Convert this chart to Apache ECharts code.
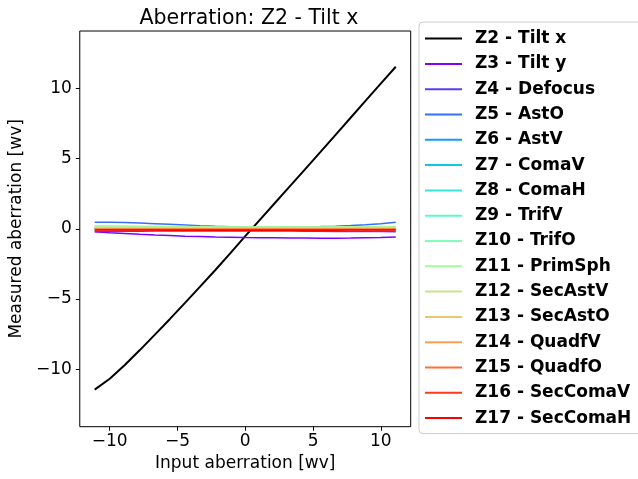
<!DOCTYPE html>
<html>
<head>
<meta charset="utf-8">
<script src="https://cdn.jsdelivr.net/npm/echarts@6/dist/echarts.min.js"></script>
<style>
  html, body { margin: 0; padding: 0; background: #fff; }
  #chart { width: 638px; height: 479px; }
</style>
</head>
<body>
<div id="chart"></div>
<script>
// Input aberration sweep (wv)
const inputValues = [-11.1, -9.99, -8.88, -7.77, -6.66, -5.55, -4.44, -3.33, -2.22, -1.11, 0,
                     1.11, 2.22, 3.33, 4.44, 5.55, 6.66, 7.77, 8.88, 9.99, 11.1];

const xTicks = [-10, -5, 0, 5, 10];
const yTicks = [-10, -5, 0, 5, 10];

const seriesNames = [
  'Z2 - Tilt x', 'Z3 - Tilt y', 'Z4 - Defocus', 'Z5 - AstO', 'Z6 - AstV',
  'Z7 - ComaV', 'Z8 - ComaH', 'Z9 - TrifV', 'Z10 - TrifO', 'Z11 - PrimSph',
  'Z12 - SecAstV', 'Z13 - SecAstO', 'Z14 - QuadfV', 'Z15 - QuadfO',
  'Z16 - SecComaV', 'Z17 - SecComaH'
];

// Measured response of each Zernike term (wv)
const z2 = [-11.46, -10.68, -9.70, -8.64, -7.54, -6.42, -5.28, -4.12, -2.95, -1.75, -0.52,
            0.68, 1.88, 3.08, 4.28, 5.48, 6.70, 7.92, 9.14, 10.35, 11.55];
const z3 = [-0.20, -0.27, -0.33, -0.39, -0.44, -0.48, -0.52, -0.55, -0.58, -0.60, -0.62,
            -0.63, -0.64, -0.65, -0.66, -0.67, -0.67, -0.66, -0.64, -0.62, -0.58];
const z4 = [-0.18, -0.18, -0.17, -0.17, -0.16, -0.16, -0.15, -0.15, -0.15, -0.15, -0.15,
            -0.15, -0.16, -0.16, -0.17, -0.17, -0.18, -0.18, -0.19, -0.19, -0.20];
const z5 = [0.47, 0.47, 0.45, 0.42, 0.37, 0.32, 0.27, 0.22, 0.18, 0.15, 0.13,
            0.12, 0.12, 0.13, 0.14, 0.16, 0.19, 0.23, 0.29, 0.37, 0.47];
const z6 = [0.05, 0.05, 0.05, 0.04, 0.04, 0.04, 0.04, 0.03, 0.03, 0.03, 0.03,
            0.03, 0.03, 0.03, 0.04, 0.04, 0.04, 0.04, 0.05, 0.05, 0.05];
const z7 = [0.02, 0.02, 0.02, 0.02, 0.02, 0.02, 0.02, 0.02, 0.02, 0.02, 0.02,
            0.02, 0.02, 0.02, 0.02, 0.02, 0.02, 0.02, 0.02, 0.02, 0.02];
const z8 = [0.06, 0.06, 0.06, 0.05, 0.05, 0.05, 0.05, 0.05, 0.05, 0.05, 0.05,
            0.05, 0.05, 0.05, 0.05, 0.05, 0.05, 0.05, 0.06, 0.06, 0.06];
const z9 = [0.10, 0.10, 0.10, 0.10, 0.09, 0.09, 0.09, 0.09, 0.09, 0.09, 0.09,
            0.09, 0.09, 0.09, 0.09, 0.09, 0.09, 0.10, 0.10, 0.10, 0.10];
const z10 = [0.14, 0.14, 0.13, 0.13, 0.12, 0.12, 0.12, 0.11, 0.11, 0.11, 0.11,
             0.11, 0.11, 0.11, 0.11, 0.12, 0.12, 0.12, 0.13, 0.13, 0.14];
const z11 = [0.22, 0.21, 0.20, 0.19, 0.18, 0.17, 0.16, 0.15, 0.14, 0.13, 0.13,
             0.13, 0.13, 0.13, 0.13, 0.14, 0.14, 0.15, 0.15, 0.16, 0.17];
const z12 = [0.10, 0.10, 0.10, 0.10, 0.10, 0.10, 0.10, 0.10, 0.10, 0.10, 0.10,
             0.10, 0.10, 0.10, 0.10, 0.10, 0.10, 0.10, 0.10, 0.10, 0.10];
const z13 = [0.05, 0.05, 0.05, 0.05, 0.05, 0.05, 0.05, 0.05, 0.05, 0.05, 0.05,
             0.05, 0.05, 0.05, 0.05, 0.05, 0.05, 0.05, 0.05, 0.05, 0.05];
const z14 = [0.01, 0.01, 0.01, 0.00, 0.00, 0.00, 0.00, 0.00, 0.00, 0.00, 0.00,
             0.00, 0.00, 0.00, 0.00, 0.00, 0.00, 0.00, 0.00, 0.01, 0.01];
const z15 = [-0.02, -0.02, -0.02, -0.03, -0.03, -0.03, -0.03, -0.03, -0.03, -0.03, -0.03,
             -0.03, -0.03, -0.03, -0.03, -0.03, -0.03, -0.03, -0.03, -0.02, -0.02];
const z16 = [-0.06, -0.06, -0.06, -0.06, -0.06, -0.06, -0.06, -0.06, -0.06, -0.06, -0.06,
             -0.06, -0.06, -0.06, -0.06, -0.06, -0.06, -0.06, -0.06, -0.06, -0.06];
const z17 = [-0.09, -0.09, -0.09, -0.09, -0.09, -0.10, -0.10, -0.10, -0.10, -0.10, -0.10,
             -0.10, -0.10, -0.10, -0.10, -0.10, -0.10, -0.09, -0.09, -0.09, -0.09];

const seriesValues = [z2, z3, z4, z5, z6, z7, z8, z9, z10, z11, z12, z13, z14, z15, z16, z17];

// black for the driven term, rainbow colormap for the rest
const seriesColors = [
  '#000000', '#8000ff', '#5b39fd', '#376ff9', '#129ff1', '#12c7e6', '#37e6d8', '#5bf9c7',
  '#80ffb4', '#a4f99f', '#c8e688', '#edc76f', '#ff9f54', '#ff6f39', '#ff391d', '#ff0000'
];

const FONT = 'DejaVu Sans';
const minus = v => String(v).replace('-', '\u2212');

const chart = echarts.init(document.getElementById('chart'), null, { renderer: 'canvas' });

const series = seriesNames.map((name, i) => ({
  name: name,
  type: 'line',
  symbol: 'none',
  smooth: false,
  data: inputValues.map((x, k) => [x, seriesValues[i][k]]),
  lineStyle: { color: seriesColors[i], width: i === 0 ? 2 : 1.5 },
  itemStyle: { color: seriesColors[i] },
  emphasis: { disabled: true },
  animation: false
}));

// legend entries drawn as short line segments
const legendData = seriesNames.map((name, i) => ({
  name: name,
  icon: 'rect',
  itemStyle: { color: seriesColors[i], borderWidth: 0 }
}));

chart.setOption({
  animation: false,
  backgroundColor: '#ffffff',
  title: {
    text: 'Aberration: Z2 - Tilt x',
    left: 244, top: 3,
    textAlign: 'center',
    textStyle: { fontFamily: FONT, fontSize: 20.5, fontWeight: 'normal', color: '#000' }
  },
  grid: {
    left: 77.5, top: 31, right: 227.3, bottom: 52.3,
    show: true, borderColor: '#000', borderWidth: 1, backgroundColor: 'transparent'
  },
  xAxis: {
    type: 'value',
    min: -12.2, max: 12.2,
    name: 'Input aberration [wv]',
    nameLocation: 'middle',
    nameGap: 28,
    nameTextStyle: { fontFamily: FONT, fontSize: 17, color: '#000' },
    axisLine: { show: false, onZero: false },
    axisTick: { show: true, inside: false, length: 4, customValues: xTicks,
                lineStyle: { color: '#000', width: 1 } },
    axisLabel: { customValues: xTicks, margin: 6, formatter: minus,
                 fontFamily: FONT, fontSize: 17, color: '#000' },
    splitLine: { show: false }
  },
  yAxis: {
    type: 'value',
    min: -14.1, max: 14.1,
    name: 'Measured aberration [wv]',
    nameLocation: 'middle',
    nameGap: 47,
    nameTextStyle: { fontFamily: FONT, fontSize: 17, color: '#000' },
    axisLine: { show: false, onZero: false },
    axisTick: { show: true, inside: false, length: 4, customValues: yTicks,
                lineStyle: { color: '#000', width: 1 } },
    axisLabel: { customValues: yTicks, margin: 8, formatter: minus,
                 fontFamily: FONT, fontSize: 17, color: '#000' },
    splitLine: { show: false }
  },
  legend: {
    orient: 'vertical',
    left: 419, top: 22,
    padding: [6.6, 12, 5.5, 6],
    itemWidth: 37, itemHeight: 2, itemGap: 5.3,
    borderColor: '#cccccc', borderWidth: 1, borderRadius: 4,
    backgroundColor: 'rgba(255,255,255,0.8)',
    selectedMode: false,
    textStyle: { fontFamily: FONT, fontSize: 17, fontWeight: 'bold', color: '#000',
                 lineHeight: 20, padding: [0, 0, 0, 8] },
    data: legendData
  },
  series: series
});
</script>
</body>
</html>
